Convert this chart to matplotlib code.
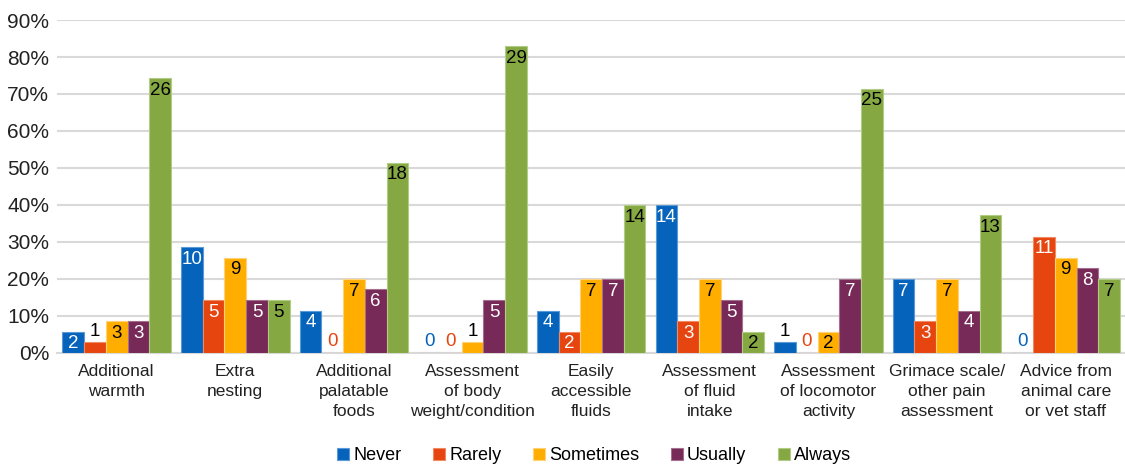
import numpy as np
import matplotlib.pyplot as plt

plt.rcParams['font.family'] = ['Liberation Sans', 'DejaVu Sans']

categories = ["Additional\nwarmth", "Extra\nnesting", "Additional\npalatable\nfoods",
              "Assessment\nof body\nweight/condition", "Easily\naccessible\nfluids",
              "Assessment\nof fluid\nintake", "Assessment\nof locomotor\nactivity",
              "Grimace scale/\nother pain\nassessment", "Advice from\nanimal care\nor vet staff"]
series = ["Never", "Rarely", "Sometimes", "Usually", "Always"]
never = [2, 10, 4, 0, 4, 14, 1, 7, 0]
rarely = [1, 5, 0, 0, 2, 3, 0, 3, 11]
sometimes = [3, 9, 7, 1, 7, 7, 2, 7, 9]
usually = [3, 5, 6, 5, 7, 5, 7, 4, 8]
always = [26, 5, 18, 29, 14, 2, 25, 13, 7]
n_respondents = 35

colors = ["#0563BB", "#E6450F", "#FFAE00", "#772957", "#85A843"]
edges = ["#5B9AD6", "#F08A63", "#FFD27A", "#A5708E", "#B3CC85"]
label_colors = ["white", "white", "black", "white", "black"]

counts = [never, rarely, sometimes, usually, always]

fig = plt.figure(figsize=(11.25, 4.66), dpi=100)
ax = fig.add_axes([0.051, 0.243, 0.949, 0.714])

x = np.arange(len(categories))
w = 0.183
for i, (name, vals) in enumerate(zip(series, counts)):
    vals = np.array(vals)
    pct = vals / n_respondents * 100
    pos = x + (i - 2) * w
    ax.bar(pos, pct, w, color=colors[i], edgecolor=edges[i], linewidth=0.8,
           label=name, zorder=3)
    for xp, v, p in zip(pos, vals, pct):
        if v == 0:
            ax.text(xp, 0.8, str(v), ha='center', va='bottom', fontsize=13.5,
                    color=colors[i], zorder=4)
        elif v == 1:
            ax.text(xp, p + 0.6, str(v), ha='center', va='bottom', fontsize=13.5,
                    color='black', zorder=4)
        else:
            ax.text(xp, p - 1.0, str(v), ha='center', va='top', fontsize=13.5,
                    color=label_colors[i], zorder=4)

ax.set_xlim(-0.5, len(categories) - 0.5)
ax.set_ylim(0, 90)
ax.set_yticks(np.arange(0, 91, 10))
ax.set_yticklabels([f"{t}%" for t in range(0, 91, 10)], fontsize=15, color='#222222')
ax.set_xticks(x)
ax.set_xticklabels(categories, fontsize=12.5, color='#222222', linespacing=1.42)
ax.tick_params(axis='both', length=0)
ax.tick_params(axis='x', pad=8)
ax.tick_params(axis='y', pad=6)
ax.yaxis.grid(True, color='#D9D9D9', linewidth=1.5, zorder=0)
ax.set_axisbelow(True)
for s in ['top', 'right', 'left']:
    ax.spines[s].set_visible(False)
ax.spines['bottom'].set_color('#D9D9D9')
ax.spines['bottom'].set_linewidth(1.5)

handles, labels = ax.get_legend_handles_labels()
fig.legend(handles, labels, loc='center', bbox_to_anchor=(0.528, 0.022), ncol=5,
           frameon=False, fontsize=13, handlelength=0.7, handleheight=0.7,
           handletextpad=0.2, columnspacing=1.75, borderaxespad=0, borderpad=0)

fig.savefig("out.png", dpi=100)
